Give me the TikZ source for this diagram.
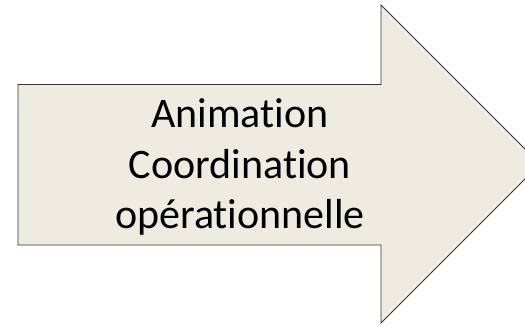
\documentclass[tikz,border=0pt]{standalone}
\usepackage{fontspec}
\setmainfont{Carlito}[Ligatures=NoCommon]
\definecolor{arrowfill}{HTML}{EEECE1}
\tikzset{
  bigarrow/.style={fill=arrowfill, draw=black!80, line width=0.8pt, line join=miter},
  arrowtext/.style={align=center, font=\fontsize{42}{50}\selectfont, inner sep=0pt}
}
\begin{document}
\begin{tikzpicture}[x=1pt,y=-1pt]
\useasboundingbox (0,0) rectangle (525,325);
\clip (0,0) rectangle (525,325);
\draw[bigarrow] (18,84.5) -- (381,84.5) -- (381,5) -- (540,164) -- (381,323) -- (381,245) -- (18,245) -- cycle;
\node[arrowtext, anchor=base] (a) at (240,127.3) {Animation};
\node[arrowtext, anchor=base] (t) at (240,178.3) {Coordination};
\node[arrowtext, anchor=base] (o) at (240,228.5) {opérationnelle};
\end{tikzpicture}
\end{document}
